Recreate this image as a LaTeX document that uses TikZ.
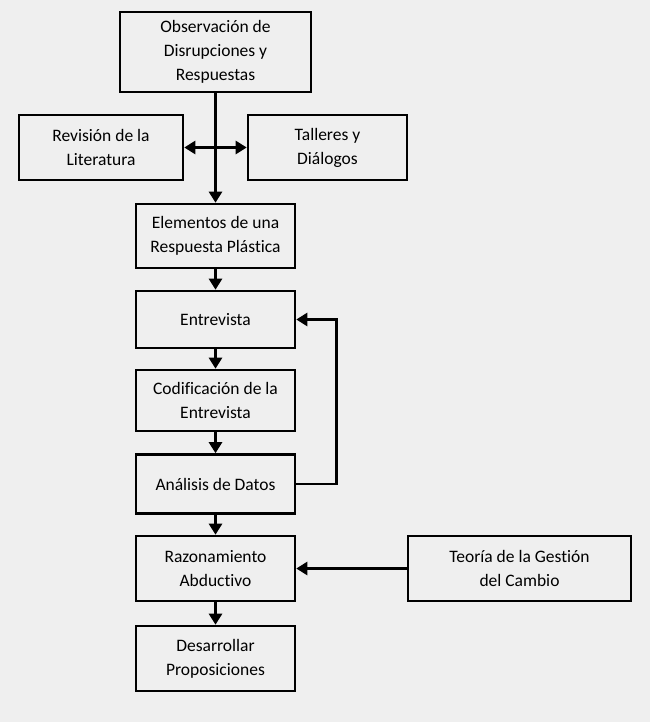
\documentclass[tikz,border=0pt]{standalone}
\usepackage{fontspec}
\setmainfont{Carlito}[Ligatures=NoCommon]
\usetikzlibrary{arrows.meta}
\definecolor{bggray}{HTML}{EFEFEF}
\tikzset{
  box/.style={draw, line width=2.6pt, align=center, inner sep=3pt,
    minimum width=159pt, font=\fontsize{17.5}{24}\selectfont},
  conn/.style={line width=2.6pt, ->}
}
\begin{document}
\begin{tikzpicture}[x=1pt, y=-1pt, >={Triangle[length=11pt,width=13pt]}]
\fill[bggray] (0,0) rectangle (650,722);
\node[box, minimum width=191pt, minimum height=80pt] (obs) at (215.5,52) {Observación de\\Disrupciones y\\Respuestas};
\node[box, minimum width=164pt, minimum height=65pt] (rev) at (101,147.5) {Revisión de la\\Literatura};
\node[box, minimum height=65pt] (tal) at (327.5,147.5) {Talleres y\\Diálogos};
\node[box, minimum height=64pt] (ele) at (215.5,236) {Elementos de una\\Respuesta Plástica};
\node[box, minimum height=57pt] (ent) at (215.5,319.5) {Entrevista};
\node[box, minimum height=61pt] (cod) at (215.5,400.5) {Codificación de la\\Entrevista};
\node[box, minimum height=59pt] (ana) at (215.5,484) {Análisis de Datos};
\node[box, minimum height=65pt] (raz) at (215.5,568.5) {Razonamiento\\Abductivo};
\node[box, minimum width=223pt, minimum height=65pt] (teo) at (519.5,568.5) {Teoría de la Gestión\\del Cambio};
\node[box, minimum height=65pt] (des) at (215.5,658.5) {Desarrollar\\Proposiciones};
\draw[conn] (obs) -- (ele);
\draw[conn, <->] (rev) -- (tal);
\draw[conn] (ele) -- (ent);
\draw[conn] (ent) -- (cod);
\draw[conn] (cod) -- (ana);
\draw[conn] (ana) -- (raz);
\draw[conn] (raz) -- (des);
\draw[conn] (ana.east) -- ++(40,0) |- (ent.east);
\draw[conn] (teo) -- (raz);
\end{tikzpicture}
\end{document}
